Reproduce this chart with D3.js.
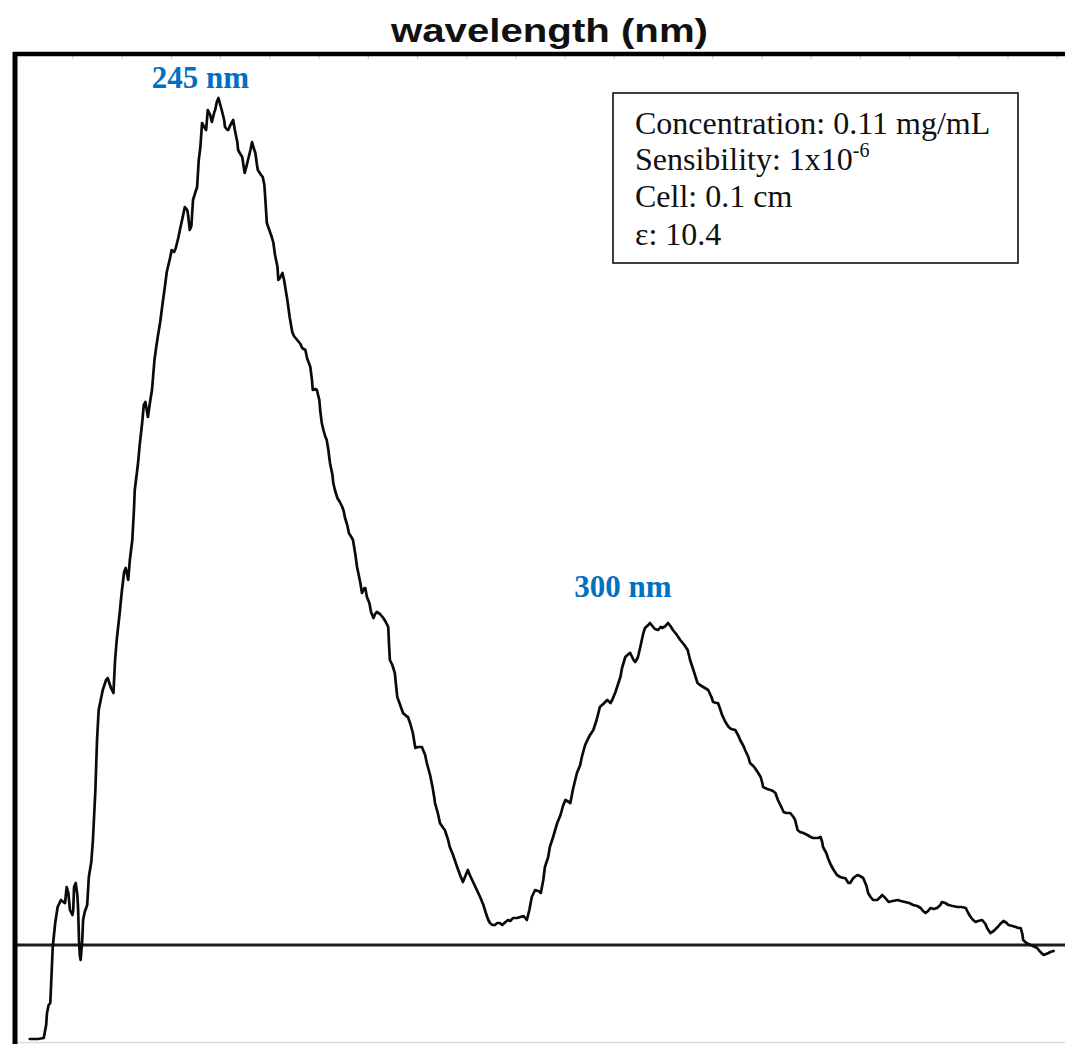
<!DOCTYPE html>
<html>
<head>
<meta charset="utf-8">
<script src="https://cdn.jsdelivr.net/npm/d3@7"></script>
<style>
  html, body { margin: 0; padding: 0; background: #fff; }
  svg { display: block; }
</style>
</head>
<body>
<script>
// CD spectrum trace: wavelength (nm) and ellipticity (mdeg)
const wavelength = [
  221.8, 222.8, 223.5, 223.8, 223.9, 224.1, 224.3, 224.4, 224.6, 224.9,
  225.2, 225.6, 225.9, 226.1, 226.3, 226.5, 226.7, 227.0, 227.1, 227.2,
  227.4, 227.6, 227.7, 227.8, 227.9, 228.0, 228.2, 228.3, 228.5, 228.8,
  229.0, 229.3, 229.5, 229.8, 230.0, 230.2, 230.5, 230.7, 231.1, 231.3,
  231.7, 232.0, 232.2, 232.4, 232.8, 233.0, 233.3, 233.5, 233.8, 234.0,
  234.3, 234.5, 234.6, 234.9, 235.0, 235.2, 235.5, 235.7, 235.9, 236.1,
  236.2, 236.5, 236.7, 237.0, 237.2, 237.4, 237.7, 238.0, 238.3, 238.5,
  238.9, 239.1, 239.4, 239.6, 239.9, 240.1, 240.5, 240.7, 241.0, 241.1,
  241.3, 241.5, 241.7, 242.0, 242.2, 242.4, 242.6, 242.8, 243.0, 243.3,
  243.5, 243.8, 244.0, 244.3, 244.4, 244.6, 244.8, 245.0, 245.2, 245.5,
  245.6, 245.9, 246.0, 246.2, 246.6, 246.8, 247.1, 247.2, 247.4, 247.7,
  247.9, 248.0, 248.2, 248.4, 248.7, 248.9, 249.1, 249.3, 249.5, 249.6,
  250.0, 250.2, 250.4, 250.5, 250.6, 250.7, 251.0, 251.3, 251.5, 251.7,
  252.0, 252.1, 252.3, 252.6, 252.8, 253.2, 253.5, 253.8, 254.0, 254.4,
  254.8, 255.0, 255.4, 255.6, 256.0, 256.2, 256.3, 256.6, 256.8, 257.1,
  257.2, 257.4, 257.6, 257.8, 258.0, 258.2, 258.4, 258.7, 258.8, 259.0,
  259.3, 259.6, 259.9, 260.1, 260.2, 260.5, 260.7, 261.0, 261.2, 261.5,
  261.7, 262.1, 262.3, 262.6, 262.7, 262.9, 263.2, 263.4, 263.7, 263.9,
  264.1, 264.5, 264.9, 265.2, 265.5, 265.6, 265.7, 266.0, 266.3, 266.6,
  267.0, 267.3, 267.7, 267.9, 268.2, 268.5, 268.8, 269.1, 269.6, 270.0,
  270.2, 270.6, 270.9, 271.1, 271.2, 271.6, 271.8, 272.2, 272.4, 272.8,
  273.0, 273.4, 273.9, 274.3, 274.6, 275.0, 275.2, 275.5, 275.9, 276.3,
  276.7, 277.1, 277.4, 277.7, 277.9, 278.2, 278.5, 278.8, 279.1, 279.4,
  279.8, 280.1, 280.4, 280.7, 281.2, 281.6, 282.0, 282.4, 282.7, 283.0,
  283.4, 283.8, 284.1, 284.4, 284.6, 285.0, 285.2, 285.6, 286.1, 286.5,
  286.8, 287.1, 287.3, 287.7, 288.0, 288.5, 288.9, 289.1, 289.5, 289.9,
  290.1, 290.5, 290.9, 291.3, 291.7, 292.2, 292.6, 292.8, 293.2, 293.4,
  293.8, 294.0, 294.4, 294.8, 295.0, 295.4, 295.6, 295.9, 296.0, 296.2,
  296.6, 296.8, 297.2, 297.4, 297.8, 298.0, 298.4, 298.7, 298.9, 299.3,
  299.6, 299.9, 300.2, 300.6, 301.1, 301.6, 302.0, 302.3, 302.7, 303.2,
  303.5, 303.9, 304.3, 304.5, 304.9, 305.1, 305.5, 305.7, 306.0, 306.2,
  306.6, 307.0, 307.3, 307.8, 308.2, 308.4, 308.8, 309.0, 309.4, 309.6,
  310.0, 310.2, 310.6, 310.9, 311.1, 311.2, 311.7, 312.1, 312.4, 312.7,
  313.0, 313.3, 313.7, 314.0, 314.5, 314.9, 315.1, 315.4, 315.7, 316.1,
  316.6, 317.0, 317.3, 317.6, 317.9, 318.2, 318.4, 318.5, 318.9, 319.1,
  319.4, 319.8, 320.2, 320.6, 321.0, 321.2, 321.6, 321.8, 322.2, 322.7,
  323.0, 323.4, 323.8, 324.0, 324.3, 324.6, 325.1, 325.5, 325.7, 326.1,
  326.5, 327.0, 327.6, 328.0, 328.5, 329.0, 329.5, 330.0, 330.4, 330.7,
  331.0, 331.3, 331.6, 332.0, 332.4, 332.8, 333.0, 333.4, 333.8, 334.3,
  334.9, 335.4, 335.9, 336.2, 336.5, 336.8, 337.1, 337.4, 337.9, 338.3,
  338.5, 338.9, 339.3, 339.8, 340.1, 340.5, 340.9, 341.1, 341.6, 342.0,
  342.3, 342.6, 342.8, 342.9, 343.3, 343.8, 344.1, 344.6, 345.0, 345.4,
  345.7, 346.0, 346.2, 346.6
];

const ellipticity = [
  -9.4, -9.4, -9.3, -8.0, -6.8, -6.0, -5.8, -4.0, -0.2, 2.2,
  3.8, 4.5, 4.3, 4.2, 5.8, 5.2, 3.5, 3.0, 3.5, 5.8,
  6.2, 5.0, 3.5, 0.5, -1.0, -1.5, 0.5, 2.5, 3.3, 4.0,
  6.8, 8.3, 10.5, 15.5, 20.5, 23.5, 24.7, 25.5, 26.5, 26.7,
  25.7, 25.2, 28.5, 30.5, 33.5, 35.2, 37.3, 37.7, 36.5, 38.5,
  40.5, 43.5, 45.5, 47.5, 48.2, 50.0, 52.2, 54.0, 54.3, 53.3,
  52.8, 54.5, 55.5, 58.5, 59.7, 60.8, 62.3, 64.2, 66.0, 67.3,
  68.7, 69.5, 69.3, 69.7, 70.7, 71.5, 73.0, 73.8, 73.5, 73.0,
  71.5, 71.9, 74.5, 75.3, 75.8, 78.5, 79.8, 82.2, 81.9, 81.5,
  83.5, 83.0, 82.3, 83.3, 83.5, 84.3, 84.7, 84.1, 83.5, 82.5,
  81.8, 81.5, 81.5, 81.9, 82.5, 81.5, 80.3, 79.5, 79.2, 78.8,
  77.7, 77.2, 77.8, 78.5, 79.5, 80.3, 79.7, 79.2, 78.0, 77.5,
  77.0, 76.8, 76.0, 74.8, 73.5, 72.2, 71.5, 70.8, 70.2, 69.0,
  67.8, 66.5, 66.7, 67.2, 66.5, 64.5, 62.7, 61.3, 60.9, 60.5,
  60.1, 59.7, 59.5, 58.7, 57.8, 56.5, 55.5, 55.6, 55.5, 54.5,
  53.5, 52.2, 51.5, 50.9, 50.5, 49.5, 48.2, 47.0, 46.2, 45.5,
  44.7, 44.3, 43.8, 43.3, 42.8, 42.0, 41.2, 40.8, 40.5, 39.0,
  37.8, 36.2, 35.2, 35.7, 35.7, 34.8, 34.2, 33.3, 32.7, 33.1,
  33.3, 33.1, 32.7, 32.3, 31.8, 30.0, 28.5, 28.0, 27.2, 24.8,
  23.9, 23.2, 22.9, 22.8, 22.1, 21.2, 19.7, 19.8, 19.8, 19.0,
  18.2, 17.0, 15.8, 14.8, 14.2, 13.0, 12.2, 11.7, 11.5, 10.5,
  9.8, 9.0, 7.8, 6.9, 6.3, 7.1, 7.5, 6.9, 6.2, 5.5,
  4.8, 4.0, 3.2, 2.5, 2.2, 2.0, 2.0, 2.2, 2.2, 2.0,
  2.3, 2.5, 2.4, 2.7, 2.7, 2.8, 2.9, 2.5, 3.5, 4.8,
  5.5, 5.4, 5.2, 6.5, 7.8, 8.8, 9.8, 10.8, 12.2, 13.0,
  13.9, 14.5, 14.4, 14.2, 15.5, 17.2, 18.0, 18.8, 20.0, 20.7,
  21.0, 21.5, 22.5, 23.8, 24.1, 24.5, 24.2, 24.5, 25.3, 25.8,
  26.8, 27.7, 28.8, 29.1, 29.2, 28.5, 28.3, 28.7, 29.0, 29.7,
  31.2, 31.7, 32.0, 32.2, 31.8, 31.6, 31.5, 31.8, 31.7, 31.9,
  32.2, 31.9, 31.5, 31.1, 30.5, 30.0, 29.5, 28.5, 27.5, 26.2,
  26.0, 25.8, 25.6, 25.5, 24.8, 24.3, 24.2, 24.2, 23.5, 23.0,
  22.3, 21.8, 21.6, 21.5, 20.9, 20.5, 19.9, 19.5, 18.8, 18.2,
  17.9, 17.7, 17.2, 16.8, 16.2, 15.8, 15.6, 15.5, 15.4, 15.2,
  14.5, 14.0, 13.3, 13.2, 13.2, 12.8, 12.5, 11.5, 11.3, 11.2,
  11.0, 10.8, 10.7, 10.7, 10.7, 10.8, 10.3, 9.8, 9.2, 8.7,
  8.1, 7.5, 7.0, 6.8, 6.7, 6.7, 6.2, 6.2, 6.7, 7.0,
  6.9, 6.7, 5.9, 5.2, 4.8, 4.5, 4.5, 4.8, 5.0, 4.7,
  4.3, 4.4, 4.5, 4.4, 4.3, 4.2, 4.0, 3.9, 3.7, 3.4,
  3.2, 3.4, 3.7, 3.6, 3.7, 4.0, 4.3, 4.2, 4.0, 3.9,
  3.8, 3.8, 3.7, 3.2, 2.8, 2.5, 2.3, 2.4, 2.5, 2.1,
  1.7, 1.2, 1.4, 1.8, 2.1, 2.4, 2.2, 2.0, 1.9, 1.8,
  1.7, 1.7, 1.1, 0.5, 0.2, 0.0, -0.1, -0.3, -0.7, -1.0,
  -0.9, -0.8, -0.7, -0.6
];

// Annotated band maxima
const peakWavelengths = [245, 300];
const peakLabels = ["245 nm", "300 nm"];

// Measurement conditions shown in the info box
const infoLines = [
  { text: "Concentration: 0.11 mg/mL" },
  { text: "Sensibility: 1x10", sup: "-6" },
  { text: "Cell: 0.1 cm" },
  { text: "\u03b5: 10.4" }
];

// Chart-paper tick marks along the top edge (nm)
const paperTicks = d3.range(227, 348, 6);

const width = 1065, height = 1044;
const svg = d3.select("body").append("svg")
  .attr("width", width)
  .attr("height", height);

const x = d3.scaleLinear().domain([220, 348]).range([15, 1065]);
const y = d3.scaleLinear().domain([-10, 89]).range([1045, 55]);

const points = wavelength.map((w, i) => ({ w, v: ellipticity[i] }));

// Title
svg.append("text")
  .attr("x", 549.5)
  .attr("y", 42)
  .attr("text-anchor", "middle")
  .attr("font-family", "'Liberation Sans', Arial, sans-serif")
  .attr("font-weight", "bold")
  .attr("font-size", 34)
  .attr("textLength", 317)
  .attr("lengthAdjust", "spacingAndGlyphs")
  .attr("fill", "#111")
  .text("wavelength (nm)");

// Faint lower edge of the chart paper
svg.append("line")
  .attr("x1", 15).attr("x2", 1065)
  .attr("y1", 1042.5).attr("y2", 1042.5)
  .attr("stroke", "#dcdcdc")
  .attr("stroke-width", 1.5);

// Paper ticks under the top edge
const topAxis = d3.axisBottom(x).tickValues(paperTicks).tickSize(3).tickFormat("");
const gTop = svg.append("g").attr("transform", "translate(0,56)").call(topAxis);
gTop.select(".domain").remove();
gTop.selectAll(".tick line").attr("stroke", "#c4c4c4").attr("stroke-width", 1);

// Zero line
svg.append("line")
  .attr("x1", 15).attr("x2", 1065)
  .attr("y1", y(0)).attr("y2", y(0))
  .attr("stroke", "#1c1c1c")
  .attr("stroke-width", 2.8);

// Frame: heavy top and left edges
svg.append("line")
  .attr("x1", 13).attr("x2", 1065)
  .attr("y1", 54).attr("y2", 54)
  .attr("stroke", "#000")
  .attr("stroke-width", 4.5);
svg.append("line")
  .attr("x1", 15).attr("x2", 15)
  .attr("y1", 52).attr("y2", 1044)
  .attr("stroke", "#000")
  .attr("stroke-width", 5);

// Spectrum
const line = d3.line().x(d => x(d.w)).y(d => y(d.v)).curve(d3.curveLinear);
svg.append("path")
  .datum(points)
  .attr("d", line)
  .attr("fill", "none")
  .attr("stroke", "#0a0a0a")
  .attr("stroke-width", 2.7)
  .attr("stroke-linejoin", "round")
  .attr("stroke-linecap", "round");

// Peak labels, placed above the local maximum near each annotated wavelength
const labelOffsets = [{ dx: -18, dy: -10 }, { dx: -27, dy: -26 }];
peakWavelengths.forEach((pw, i) => {
  const near = points.filter(p => Math.abs(p.w - pw) <= 4);
  const top = near.reduce((a, b) => (b.v > a.v ? b : a));
  svg.append("text")
    .attr("x", x(top.w) + labelOffsets[i].dx)
    .attr("y", y(top.v) + labelOffsets[i].dy)
    .attr("text-anchor", "middle")
    .attr("font-family", "'Liberation Serif', 'Times New Roman', serif")
    .attr("font-weight", "bold")
    .attr("font-size", 31)
    .attr("fill", "#0070c0")
    .text(peakLabels[i]);
});

// Info box
const box = svg.append("g");
box.append("rect")
  .attr("x", 613).attr("y", 93)
  .attr("width", 405).attr("height", 170)
  .attr("fill", "#fff")
  .attr("stroke", "#111")
  .attr("stroke-width", 1.6);

const baselines = [134, 170, 207, 245];
infoLines.forEach((ln, i) => {
  const t = box.append("text")
    .attr("x", 635)
    .attr("y", baselines[i])
    .attr("font-family", "'Liberation Serif', 'Times New Roman', serif")
    .attr("font-size", 32)
    .attr("fill", "#111");
  t.append("tspan").text(ln.text);
  if (ln.sup) {
    t.append("tspan")
      .attr("dy", -13)
      .attr("font-size", 20)
      .text(ln.sup);
  }
});
</script>
</body>
</html>
